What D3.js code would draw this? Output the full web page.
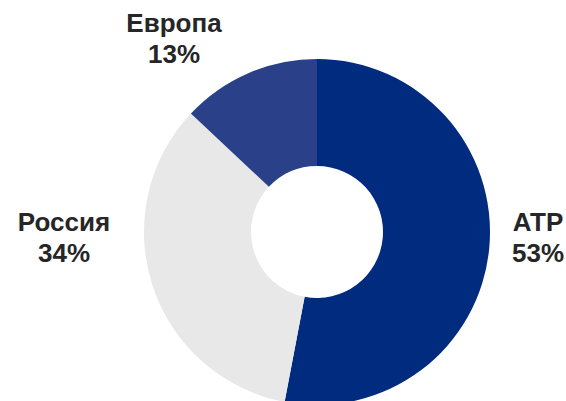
<!DOCTYPE html>
<html>
<head>
<meta charset="utf-8">
<style>
  body { margin: 0; background: #fff; }
  svg { display: block; }
  .lbl { font-family: "Liberation Sans", Arial, sans-serif; font-weight: bold; font-size: 26px; fill: #262626; }
</style>
<script src="https://d3js.org/d3.v7.min.js"></script>
</head>
<body>
<div id="chart"></div>
<script>
// data
const regions = ["АТР", "Россия", "Европа"];
const shares = [53, 34, 13];
const colors = ["#002b7f", "#e8e8e8", "#2a4189"];

// label centres, hand placed like the source chart
const labelXY = [[538, 231], [64, 231], [174, 32]];

const width = 566, height = 401;
const cx = 317, cy = 232;
const outerR = 173, innerR = 66;

const svg = d3.select("#chart").append("svg")
    .attr("width", width)
    .attr("height", height);

const pie = d3.pie().sort(null).value(d => d);
const arc = d3.arc().innerRadius(innerR).outerRadius(outerR);

const g = svg.append("g").attr("transform", `translate(${cx},${cy})`);

g.selectAll("path")
    .data(pie(shares))
    .enter().append("path")
    .attr("d", arc)
    .attr("fill", (d, i) => colors[i]);

const labels = svg.selectAll("text.lbl")
    .data(regions)
    .enter().append("text")
    .attr("class", "lbl")
    .attr("text-anchor", "middle")
    .attr("x", (d, i) => labelXY[i][0])
    .attr("y", (d, i) => labelXY[i][1]);

labels.append("tspan")
    .attr("x", (d, i) => labelXY[i][0])
    .text(d => d);

labels.append("tspan")
    .attr("x", (d, i) => labelXY[i][0])
    .attr("dy", 30.5)
    .text((d, i) => shares[i] + "%");
</script>
</body>
</html>
